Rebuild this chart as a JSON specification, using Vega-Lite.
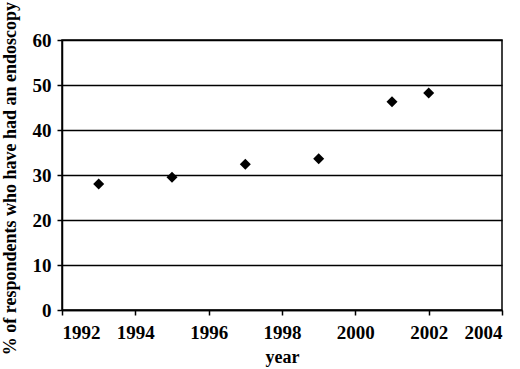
{
  "$schema": "https://vega.github.io/schema/vega-lite/v6.json",
  "width": 440,
  "height": 270,
  "autosize": "none",
  "padding": {"left": 62, "top": 40, "right": 18, "bottom": 59},
  "background": "white",
  "config": {
    "view": {"stroke": "black", "strokeWidth": 1.5},
    "font": "Liberation Serif",
    "axis": {
      "labelFont": "Liberation Serif",
      "titleFont": "Liberation Serif",
      "labelFontWeight": "bold",
      "titleFontWeight": "bold",
      "labelColor": "black",
      "titleColor": "black",
      "labelFontSize": 19,
      "titleFontSize": 18,
      "domainColor": "black",
      "domainWidth": 1.5,
      "tickColor": "black",
      "tickWidth": 1.5,
      "tickSize": 5
    }
  },
  "data": {
    "values": [
      {"year": 1993, "pct": 28.0},
      {"year": 1995, "pct": 29.5},
      {"year": 1997, "pct": 32.4},
      {"year": 1999, "pct": 33.6},
      {"year": 2001, "pct": 46.3},
      {"year": 2002, "pct": 48.2}
    ]
  },
  "mark": {"type": "point", "shape": "diamond", "filled": true, "color": "black", "size": 121, "opacity": 1},
  "encoding": {
    "x": {
      "field": "year",
      "type": "quantitative",
      "scale": {"domain": [1992, 2004], "nice": false, "zero": false},
      "axis": {"values": [1992, 1994, 1996, 1998, 2000, 2002, 2004], "format": "d", "grid": false, "title": "year", "labelPadding": 8, "titlePadding": 6}
    },
    "y": {
      "field": "pct",
      "type": "quantitative",
      "scale": {"domain": [0, 60], "nice": false},
      "axis": {"values": [0, 10, 20, 30, 40, 50, 60], "grid": true, "gridColor": "black", "gridWidth": 1.5, "gridOpacity": 1, "title": "% of respondents who have had an endoscopy", "labelPadding": 6, "titleX": -43, "titleY": 138, "titleBaseline": "bottom"}
    }
  }
}
